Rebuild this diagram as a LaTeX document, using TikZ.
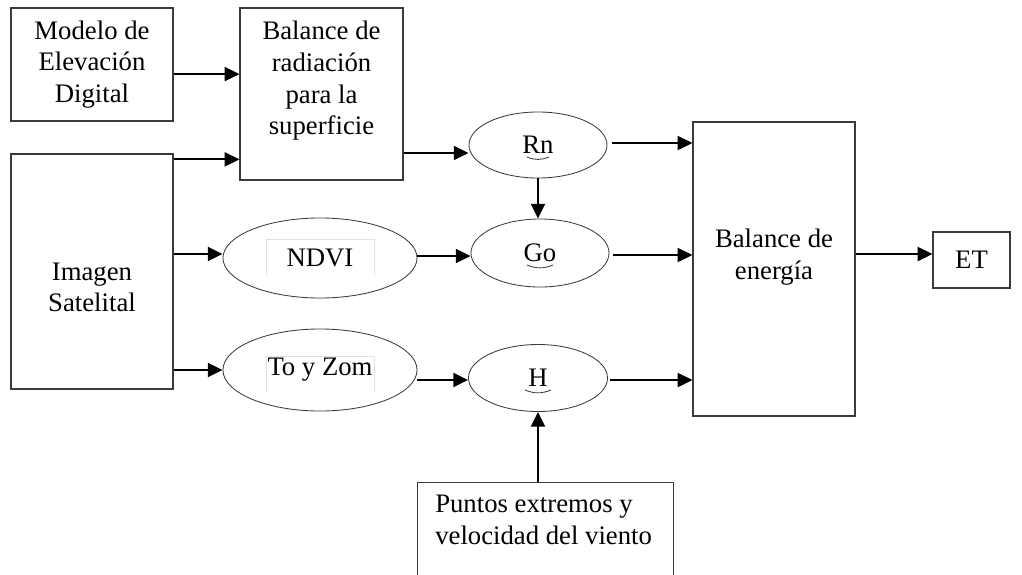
\documentclass[tikz,border=0pt]{standalone}
\usepackage{fontspec}
\setmainfont{Liberation Serif}
\usepackage{xcolor}
\definecolor{boxline}{HTML}{3A3A3A}
\definecolor{ink}{HTML}{000000}
\definecolor{faint}{HTML}{E2E2E2}
\usetikzlibrary{calc,arrows.meta,positioning,shapes.geometric}

\begin{document}
\begin{tikzpicture}[x=0.025cm, y=-0.025cm,
		font=\fontsize{19}{22.5}\selectfont,
		box/.style={draw=boxline, line width=0.85pt, inner sep=0pt, align=center},
		oval/.style={ellipse, draw=boxline, line width=0.6pt, inner sep=0pt},
		arr/.style={-{Triangle[length=10.5pt,width=10pt]}, ink, line width=1.4pt},
		smile/.style={boxline, line width=0.6pt}]

		\useasboundingbox (0,0) rectangle (1022,574);
		\clip (0,0) rectangle (1022,574);

		% ================= input blocks =================
		\node[box, minimum width=4.05cm, minimum height=2.825cm] (modelo) at (92,64.5) {Modelo de\\Elevación\\Digital};
		\node[box, minimum width=4.05cm, minimum height=5.875cm] (imagen) at (92,271.5) {};
		\node[align=center, inner sep=0pt] (imagentxt) at ([yshift=-0.4cm]imagen.center) {Imagen\\Satelital};
		\node[box, minimum width=4.075cm, minimum height=4.3cm] (radiacion) at (321.5,94) {};
		\node[align=center, inner sep=0pt] (radiaciontxt) at ([yshift=0.33cm]radiacion.center) {Balance de\\radiación\\para la\\superficie};

		% ================= intermediate ovals =================
		\node[oval, minimum width=4.85cm, minimum height=2.0cm] (ndvi) at (320,258) {NDVI};
		\node[oval, minimum width=4.85cm, minimum height=2.05cm] (toyzom) at (320,370) {To y Zom};
		\node[oval, minimum width=3.45cm, minimum height=1.65cm] (rn) at (538,145) {Rn};
		\node[oval, minimum width=3.45cm, minimum height=1.7cm] (go) at (540,253) {Go};
		\node[oval, minimum width=3.475cm, minimum height=1.675cm] (h) at (538,378) {H};

		% faint text frames inside the ovals
		\foreach \o/\lo/\hi in {ndvi/17/36,toyzom/22/36}{
			\draw[faint, line width=0.5pt] ([shift={(-54,\lo)}]\o.center) -- ++(0,-\hi) -- ++(108,0) -- ++(0,\hi);
		}

		% small marks under the labels
		\foreach \o/\dx in {rn/-11,go/-13,h/-13}{
			\draw[smile] ([shift={(\dx,12)}]\o.center) to[bend right=22] ++(-2*\dx,0);
		}

		% ================= output blocks =================
		\node[box, minimum width=4.05cm, minimum height=7.35cm] (energia) at (774,269) {};
		\node[align=center, inner sep=0pt] (energiatxt) at ([yshift=0.3cm]energia.center) {Balance de\\energía};
		\node[box, minimum width=1.925cm, minimum height=1.4cm] (et) at (971.5,260) {ET};
		\node[box, minimum width=6.4cm, minimum height=3.5cm, anchor=north west] (puntos) at (417,482) {};
		\node[anchor=north west, align=left, inner sep=0pt] (puntostxt) at ([shift={(18,13)}]puntos.north west) {Puntos extremos y\\velocidad del viento};

		% ================= connectors =================
		\draw[arr] ([yshift=-0.24cm]modelo.east) -- ([yshift=-0.24cm]modelo.east -| radiacion.west);
		\draw[arr] ([yshift=-0.15cm]imagen.north east) -- ([yshift=-0.15cm]imagen.north east -| radiacion.west);
		\draw[arr] ([yshift=-0.2cm]rn.west -| radiacion.east) -- ([yshift=-0.2cm]rn.west);
		\draw[arr] ([xshift=0.12cm,yshift=0.05cm]rn.east) -- ([yshift=0.05cm]rn.east -| energia.west);
		\draw[arr] (rn.south) -- (rn.south |- go.north);

		\draw[arr] ([yshift=0.1cm]ndvi.west -| imagen.east) -- ([yshift=0.1cm]ndvi.west);
		\draw[arr] ([yshift=0.05cm]ndvi.east) -- ([yshift=0.05cm]ndvi.east -| go.west);
		\draw[arr] ([xshift=0.08cm,yshift=-0.05cm]go.east) -- ([yshift=-0.05cm]go.east -| energia.west);
		\draw[arr] ([yshift=0.15cm]et.west -| energia.east) -- ([yshift=0.15cm]et.west);

		\draw[arr] (toyzom.west -| imagen.east) -- (toyzom.west);
		\draw[arr] ([yshift=-0.05cm]h.west -| toyzom.east) -- ([yshift=-0.05cm]h.west);
		\draw[arr] ([xshift=0.05cm,yshift=-0.05cm]h.east) -- ([yshift=-0.05cm]h.east -| energia.west);
		\draw[arr] (h.south |- puntos.north) -- (h.south);

	\end{tikzpicture}
\end{document}
